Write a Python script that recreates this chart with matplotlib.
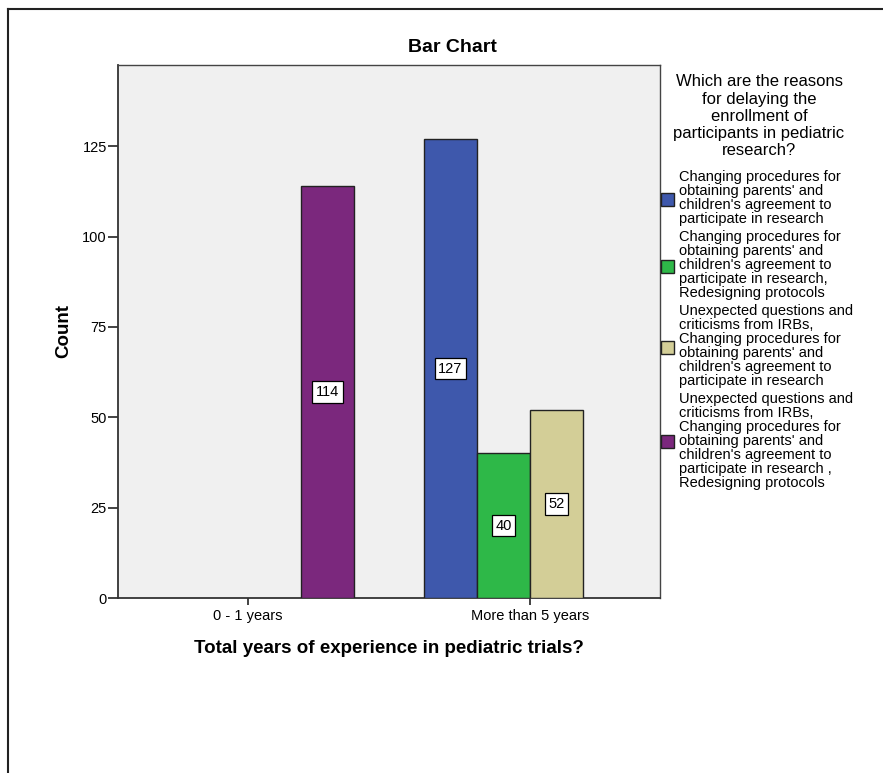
import numpy as np
import matplotlib.pyplot as plt
from matplotlib.patches import Rectangle
from matplotlib.lines import Line2D

plt.rcParams['font.family'] = ['Liberation Sans', 'DejaVu Sans']

# ------------------------------------------
# data
# ------------------------------------------
categories = ["0 - 1 years", "More than 5 years"]

legend_title = ["Which are the reasons", "for delaying the", "enrollment of",
                "participants in pediatric", "research?"]

series_labels = [
    ["Changing procedures for", "obtaining parents' and",
     "children's agreement to", "participate in research"],
    ["Changing procedures for", "obtaining parents' and",
     "children's agreement to", "participate in research,",
     "Redesigning protocols"],
    ["Unexpected questions and", "criticisms from IRBs,",
     "Changing procedures for", "obtaining parents' and",
     "children's agreement to", "participate in research"],
    ["Unexpected questions and", "criticisms from IRBs,",
     "Changing procedures for", "obtaining parents' and",
     "children's agreement to", "participate in research ,",
     "Redesigning protocols"],
]

# counts per series, one value per category
counts = [
    [0, 127],
    [0, 40],
    [0, 52],
    [114, 0],
]

colors = ["#3E58AC", "#2EB848", "#D3CE97", "#7B287D"]

yticks = [0, 25, 50, 75, 100, 125]

# ------------------------------------------
# figure
# ------------------------------------------
W, H = 883, 773
fig = plt.figure(figsize=(W / 100, H / 100), dpi=100)
fig.patch.set_facecolor("white")

ax = fig.add_axes([118 / W, (H - 598) / H, 542 / W, (598 - 65) / H])
ax.set_facecolor("#F0F0F0")

x = np.arange(len(categories))
width = 0.188
n = len(counts)

for i, (vals, col) in enumerate(zip(counts, colors)):
    offset = (i - (n - 1) / 2) * width
    for xi, v in zip(x, vals):
        if v == 0:
            continue
        ax.bar(xi + offset, v, width=width, color=col, edgecolor="#222222",
               linewidth=1.0, zorder=3)
        ax.text(xi + offset, v / 2, str(v), ha="center", va="center",
                fontsize=10.5, zorder=4,
                bbox=dict(boxstyle="square,pad=0.25", fc="white",
                          ec="black", lw=0.9))

ax.set_xlim(-0.461, 1.461)
ax.set_ylim(0, 147.5)
ax.set_xticks(x)
ax.set_xticklabels(categories, fontsize=10.5)
ax.set_yticks(yticks)
ax.set_yticklabels([str(t) for t in yticks], fontsize=10.5)
ax.tick_params(axis="y", length=7, width=1.2, color="#222222", pad=1)
ax.tick_params(axis="x", length=5, width=1.2, color="#222222", pad=3)

for side in ["left", "bottom"]:
    ax.spines[side].set_color("#333333")
    ax.spines[side].set_linewidth(1.3)
for side in ["top", "right"]:
    ax.spines[side].set_color("#444444")
    ax.spines[side].set_linewidth(1.0)

ax.set_ylabel("Count", fontsize=13.5, fontweight="bold", labelpad=7)
ax.set_xlabel("Total years of experience in pediatric trials?",
              fontsize=13.5, fontweight="bold", labelpad=12)

fig.text(452 / W, 1 - 47 / H, "Bar Chart", ha="center", va="center",
         fontsize=14, fontweight="bold")

# ------------------------------------------
# legend drawn by hand, SPSS style
# ------------------------------------------
for k, line in enumerate(legend_title):
    fig.text(759 / W, 1 - (82 + k * 17.2) / H, line, ha="center",
             va="center", fontsize=12)

line_h = 14.0
gap = 4.0
y_line = 177.0
for label_lines, col in zip(series_labels, colors):
    first = y_line
    for line in label_lines:
        fig.text(679 / W, 1 - y_line / H, line, ha="left", va="center",
                 fontsize=10.5)
        y_line += line_h
    last = y_line - line_h
    yc = (first + last) / 2 + 1
    fig.patches.append(Rectangle((661 / W, 1 - (yc + 6.5) / H), 13 / W, 13 / H,
                                 transform=fig.transFigure, facecolor=col,
                                 edgecolor="#222222", linewidth=1.0))
    y_line += gap

# outer frame (left and top edges only)
fig.add_artist(Line2D([8 / W, 8 / W], [0, 1 - 9 / H], transform=fig.transFigure,
                      color="#222222", linewidth=1.5))
fig.add_artist(Line2D([8 / W, 1], [1 - 9 / H, 1 - 9 / H], transform=fig.transFigure,
                      color="#222222", linewidth=1.5))

fig.savefig("out.png", dpi=100)
